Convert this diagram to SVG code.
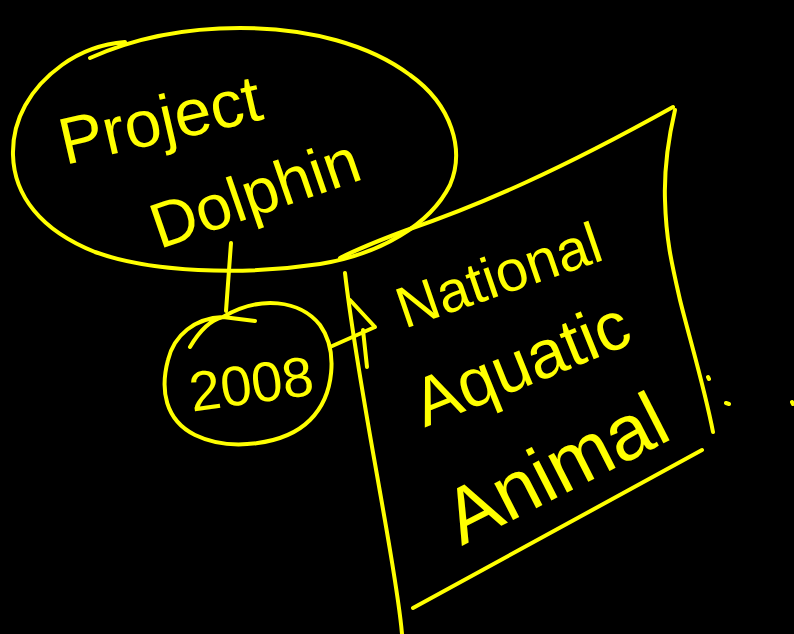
<svg xmlns="http://www.w3.org/2000/svg" width="794" height="634" viewBox="0 0 794 634">
<style>
.ink{fill:none;stroke:#FFFF00;stroke-width:4;stroke-linecap:round;stroke-linejoin:round}
.hw{fill:#FFFF00;font-family:"Liberation Sans","DejaVu Sans",sans-serif;text-anchor:middle}
</style>
<rect width="794" height="634" fill="#000"/>
<g id="project-dolphin">
<path class="ink" d="M125,42 C100,44 80,52 62,65 C30,88 12,120 13,155 C14,195 40,230 95,252 C150,272 240,276 320,264 C380,254 430,225 450,185 C465,150 452,105 410,75 C370,45 310,28 240,28 C180,28 130,40 90,58"/>
<text class="hw" font-size="66" transform="translate(165,142) rotate(-13)">Project</text>
<text class="hw" font-size="64" transform="translate(262,214) rotate(-19)">Dolphin</text>
</g>
<g id="year-2008">
<path class="ink" d="M190,347 C200,330 210,320 223,317 L255,321 M223,317 C260,295 300,300 320,325 C338,350 335,395 310,420 C285,445 230,452 195,435 C165,420 160,390 168,360 C174,335 195,318 223,317"/>
<text class="hw" font-size="56" transform="translate(254,403) rotate(-8)">2008</text>
</g>
<g id="national-aquatic-animal">
<path class="ink" d="M340,258 C360,248 380,240 407,230 C480,205 560,170 673,107"/>
<path class="ink" d="M675,110 C668,140 664,170 665,200 C666,240 672,265 680,300 C690,340 705,390 713,432"/>
<path class="ink" d="M413,608 C500,560 600,505 702,450"/>
<path class="ink" d="M345,273 C355,360 375,460 390,550 C395,580 400,610 402,634"/>
<text class="hw" font-size="58" transform="translate(505,294) rotate(-19)">National</text>
<text class="hw" font-size="68" transform="translate(530,385) rotate(-22)">Aquatic</text>
<text class="hw" font-size="78" transform="translate(568,492) rotate(-27)">Animal</text>
<path class="ink" d="M708,377 L709,379 M726,403 L729,404 M792,402 L793,404"/>
</g>
<g id="connectors">
<path class="ink" d="M231,243 L226,311"/>
<path class="ink" d="M330,347 L375,327 M350,300 L375,327 M363,330 L367,367"/>
</g>
</svg>
